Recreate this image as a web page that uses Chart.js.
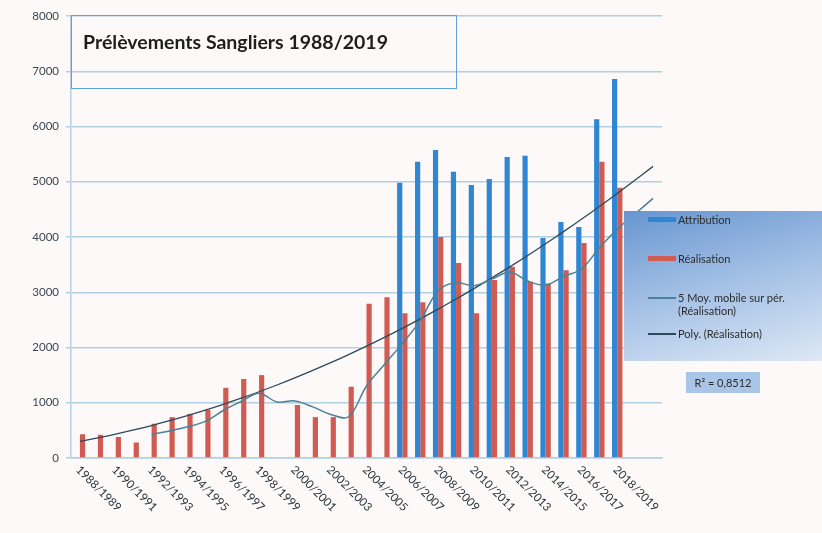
<!DOCTYPE html>
<html>
<head>
<meta charset="utf-8">
<script src="https://cdn.jsdelivr.net/npm/chart.js"></script>
<style>
body { margin: 0; background: #fdf9f8; font-family: Lato, "Open Sans", sans-serif; }
#wrap { position: relative; width: 822px; height: 533px; }
#titleBox {
position: absolute; left: 71px; top: 15px; width: 386px; height: 74px;
border: 1.5px solid #5ea3d9; box-sizing: border-box;
}
#titleBox span {
position: absolute; left: 11px; top: 14px;
font: bold 19.5px Lato, sans-serif; color: #1e1e1e;
}
#legendBox {
position: absolute; left: 624px; top: 211px; width: 198px; height: 150px;
background: linear-gradient(165deg, #6796d0 0%, #9fbde4 45%, #dde8f5 100%);
}
.item { position: absolute; left: 54px; font: 11px Lato, sans-serif; color: #2b2b2b; line-height: 13px; }
.sw { position: absolute; left: 24px; width: 28px; }
#r2 {
position: absolute; left: 686px; top: 372px; width: 74px; height: 21px;
background: #a9c6e8; font: 11px Lato, sans-serif; color: #2b2b2b;
text-align: center; line-height: 21px;
}
</style>
</head>
<body>
<div id="wrap">
<canvas id="c" width="822" height="533"></canvas>
<div id="titleBox"><span>Prélèvements Sangliers 1988/2019</span></div>
<div id="legendBox">
<div class="sw" style="top:6px;height:5px;background:#2f86d3"></div>
<div class="item" style="top:2px">Attribution</div>
<div class="sw" style="top:45px;height:5px;background:#cf5b52"></div>
<div class="item" style="top:41px">Réalisation</div>
<div class="sw" style="top:86px;height:1.5px;background:#4d8196"></div>
<div class="item" style="top:80px">5 Moy. mobile sur pér.<br>(Réalisation)</div>
<div class="sw" style="top:122px;height:1.5px;background:#2b4a5c"></div>
<div class="item" style="top:116px">Poly. (Réalisation)</div>
</div>
<div id="r2">R² = 0,8512</div>
</div>
<script>
const seasons = [
'1988/1989', '1989/1990', '1990/1991', '1991/1992', '1992/1993', '1993/1994',
'1994/1995', '1995/1996', '1996/1997', '1997/1998', '1998/1999', '1999/2000',
'2000/2001', '2001/2002', '2002/2003', '2003/2004', '2004/2005', '2005/2006',
'2006/2007', '2007/2008', '2008/2009', '2009/2010', '2010/2011', '2011/2012',
'2012/2013', '2013/2014', '2014/2015', '2015/2016', '2016/2017', '2017/2018',
'2018/2019', '', ''
];

const attribution = [
null, null, null, null, null, null, null, null, null, null, null, null,
null, null, null, null, null, null,
4980, 5360, 5575, 5180, 4940, 5050, 5450, 5470, 3980, 4270, 4180, 6130, 6860
];

const realisation = [
430, 420, 380, 280, 620, 740, 800, 870, 1270, 1430, 1500, null,
960, 740, 740, 1290, 2790, 2910,
2620, 2820, 4000, 3530, 2620, 3220, 3460, 3190, 3160, 3400, 3890, 5360, 4890
];

// 5-period moving average as drawn on the picture
const movingAvg = [
null, null, null, null, 426, 488, 564, 662, 860, 1022, 1174, 1014,
1032, 926, 788, 746, 1304, 1694, 2070, 2486, 3028, 3176, 3118, 3238,
3366, 3204, 3130, 3286, 3420, 3800, 4140, 4420, 4700
];

// polynomial trend (one period forward)
const polyTrend = [
300, 363, 432, 507, 588, 675, 767, 866, 971, 1082, 1199, 1321,
1450, 1585, 1725, 1872, 2024, 2183, 2347, 2518, 2694, 2877, 3065, 3260,
3460, 3666, 3879, 4097, 4321, 4551, 4787, 5030, 5278
];

const yTicks = [0, 1000, 2000, 3000, 4000, 5000, 6000, 7000, 8000];

const gridBlue = '#b3cfe2';

const rotatedLabels = {
id: 'rotatedLabels',
afterDraw(chart) {
const ctx = chart.ctx;
const xs = chart.scales.x;
ctx.save();
ctx.font = '11.5px Lato, sans-serif';
ctx.fillStyle = '#2a3640';
ctx.textAlign = 'left';
ctx.textBaseline = 'middle';
seasons.forEach((s, i) => {
if (!s || i % 2) return;
const px = xs.getPixelForValue(i);
ctx.save();
ctx.translate(px - 2, 468);
ctx.rotate(Math.PI / 4);
ctx.fillText(s, 0, 0);
ctx.restore();
});
ctx.restore();
}
};

new Chart(document.getElementById('c'), {
data: {
labels: seasons,
datasets: [
{
type: 'line',
label: '5 Moy. mobile sur pér. (Réalisation)',
data: movingAvg,
borderColor: '#4d8196',
borderWidth: 1.5,
pointRadius: 0,
tension: 0.35,
order: 0
},
{
type: 'line',
label: 'Poly. (Réalisation)',
data: polyTrend,
borderColor: '#2b4a5c',
borderWidth: 1.3,
pointRadius: 0,
tension: 0.4,
order: 0
},
{
type: 'bar',
label: 'Attribution',
data: attribution,
backgroundColor: '#2f86d3',
barPercentage: 1.0,
categoryPercentage: 0.58,
order: 1
},
{
type: 'bar',
label: 'Réalisation',
data: realisation,
backgroundColor: '#cf5b52',
barPercentage: 1.0,
categoryPercentage: 0.58,
order: 1
}
]
},
options: {
responsive: false,
animation: false,
layout: { padding: { top: 16, right: 160, bottom: 75, left: 0 } },
plugins: {
legend: { display: false },
tooltip: { enabled: false }
},
scales: {
x: {
ticks: { display: false },
grid: { display: false },
border: { display: true, color: gridBlue, width: 1.5 },
afterFit: (scale) => { scale.height = 0; }
},
y: {
min: 0,
max: 8000,
afterFit: (scale) => { scale.width = 71; },
afterBuildTicks: (scale) => { scale.ticks = yTicks.map(v => ({ value: v })); },
ticks: {
color: '#3a4650',
font: { family: 'Lato', size: 11.5 },
padding: 7,
callback: (v) => String(v)
},
grid: { color: gridBlue, lineWidth: 1.5, tickLength: 5 },
border: { display: true, color: gridBlue, width: 1.5 }
}
}
},
plugins: [rotatedLabels]
});
</script>
</body>
</html>
